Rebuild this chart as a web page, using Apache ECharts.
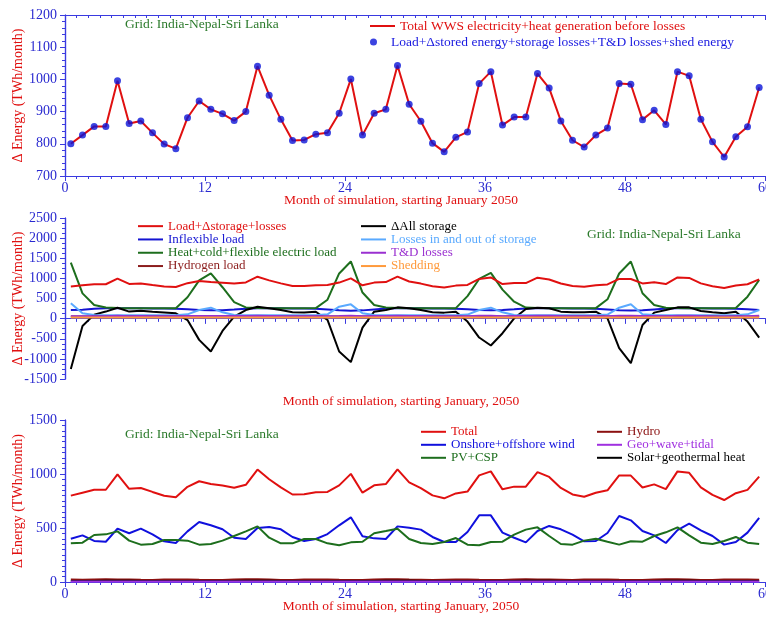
<!DOCTYPE html>
<html>
<head>
<meta charset="utf-8">
<script src="https://cdn.jsdelivr.net/npm/echarts@6/dist/echarts.min.js"></script>
<style>
html,body{margin:0;padding:0;background:#fff;overflow:hidden;}
#c{width:766px;height:617px;}
</style>
</head>
<body>
<div id="c"></div>
<script>
// ---- Data (TWh/month), one value per month, 60 months starting January 2050 ----
const monthTicks = [0, 12, 24, 36, 48, 60];

const total = [800,827,854,854,996,863,871,834,799,785,881,933,907,893,872,900,1041,951,876,810,812,830,834,895,1001,827,895,907,1043,923,870,802,775,820,837,987,1024,858,883,883,1018,973,871,811,790,827,849,987,985,875,904,860,1024,1011,876,806,759,822,853,975];

// Panel 2
const inflexibleLoad = [215,222,245,255,258,258,256,254,250,245,230,212,205,210,226,248,258,258,256,253,250,244,228,210,198,205,228,250,258,258,256,254,250,244,230,212,205,212,230,250,258,258,256,253,250,244,228,210,200,206,228,250,258,258,256,254,250,244,230,214];
const heatColdFlexLoad = [1390,627,340,275,262,258,256,255,255,258,530,950,1122,780,410,278,262,258,256,255,255,262,470,1122,1420,648,338,275,262,258,256,255,255,260,560,985,1135,720,420,275,262,258,256,255,255,260,480,1122,1420,630,340,272,262,258,256,255,255,262,545,960];
const hydrogenLoad = [52,51,53,54,55,54,53,52,51,50,52,53,54,53,52,54,56,55,53,51,50,51,52,54,56,53,54,55,57,55,53,51,50,51,52,55,56,53,54,54,56,55,53,51,50,51,52,55,55,53,54,53,56,56,53,51,49,51,52,55];
const deltaAllStorage = [-1250,-185,100,175,270,175,195,172,155,132,-35,-528,-817,-305,50,214,295,256,214,157,155,172,-33,-817,-1081,-223,173,214,280,256,214,157,149,173,-74,-470,-668,-363,8,239,272,256,173,157,157,173,8,-734,-1106,-157,149,214,280,280,190,157,132,173,-74,-470];
const storageLosses = [380,132,91,86,84,83,85,84,82,83,107,214,272,157,91,86,84,85,83,82,83,84,107,297,355,132,91,86,85,84,83,82,83,84,100,214,272,157,91,86,85,84,83,82,83,84,100,272,355,107,91,86,85,84,83,82,83,84,107,214];
const tdLosses = [58,60,62,62,70,62,63,60,58,57,63,66,65,64,63,64,72,68,63,59,59,60,60,64,70,60,64,65,73,66,63,58,56,59,60,70,72,62,63,63,71,69,63,59,57,60,61,70,70,63,65,62,72,71,63,58,55,59,61,69];
const shedding = [28,27,28,29,30,29,28,27,26,27,28,29,29,28,28,29,31,30,28,27,26,27,28,29,30,28,28,29,31,30,28,27,26,27,28,30,30,28,28,29,31,30,28,27,26,27,28,30,30,28,28,28,31,30,28,27,26,27,28,30];

// Panel 3
const wind = [401,432,380,373,494,451,494,441,377,361,469,556,525,488,410,398,500,509,488,417,380,398,444,525,599,423,404,398,515,503,485,417,370,370,463,617,617,457,410,367,472,519,488,438,377,380,454,611,571,472,432,361,481,540,478,426,346,370,457,593];
const pvCsp = [358,364,435,441,469,383,346,352,389,389,383,346,352,383,426,469,515,410,358,358,398,398,358,340,367,373,451,472,494,398,361,352,370,407,346,340,370,373,438,485,506,426,352,346,383,401,373,346,377,373,426,460,506,432,364,352,380,417,364,352];
const hydro = [22,20,24,25,24,22,20,19,22,24,23,20,19,18,23,25,25,22,19,18,22,24,24,20,19,18,23,25,25,22,20,18,21,24,23,20,19,18,23,25,24,22,20,18,22,24,24,20,19,18,23,25,25,22,19,18,22,24,23,20];
const geoWaveTidal = [4,4,4,4,5,4,4,4,4,4,4,4,4,4,4,4,5,4,4,4,4,4,4,4,4,4,4,4,5,4,4,4,4,4,4,4,4,4,4,4,5,4,4,4,4,4,4,4,4,4,4,4,5,4,4,4,4,4,4,4];
const solarGeoHeat = [10,9,10,11,12,11,10,10,9,9,10,10,10,9,10,11,12,11,10,10,9,9,10,10,10,9,10,11,12,11,10,10,9,9,10,10,10,9,10,11,12,11,10,10,9,9,10,10,10,9,10,11,12,11,10,10,9,9,10,10];

// ---- chart ----
const months = total.map((_, i) => i + 0.5);
const pts = arr => arr.map((v, i) => [months[i], v]);

const SERIF = 'Liberation Serif';
const AX_LINE = '#3a3ae0';
const AX_TXT = '#2a2ad0';
const RED = '#e01010';
const GREENTXT = '#2b7a2b';

const grids = [
  {left: 65, right: 1, top: 15, height: 161, containLabel: false, outerBoundsMode: 'none'},
  {left: 65, right: 1, top: 218, height: 161, containLabel: false, outerBoundsMode: 'none'},
  {left: 65, right: 1, top: 420, height: 162, containLabel: false, outerBoundsMode: 'none'}
];

function xBottom(g, showLabels, nameText, gap) {
  return {
    type: 'value', gridIndex: g, min: 0, max: 60, interval: 12, position: 'bottom',
    axisLine: {show: true, lineStyle: {color: AX_LINE, width: 1.2}},
    axisTick: {show: true, length: 5, lineStyle: {color: AX_LINE}},
    minorTick: {show: true, splitNumber: 12, length: 3, lineStyle: {color: AX_LINE}},
    splitLine: {show: false},
    axisLabel: {show: showLabels, color: AX_TXT, fontFamily: SERIF, fontSize: 14, margin: 5,
      formatter: v => monthTicks.includes(v) ? String(v) : ''},
    name: nameText, nameLocation: 'middle', nameGap: gap, nameMoveOverlap: false,
    nameTextStyle: {color: RED, fontFamily: SERIF, fontSize: 13.5, padding: [0, 28, 0, 0]}
  };
}
function xTop(g) {
  return {
    type: 'value', gridIndex: g, min: 0, max: 60, interval: 12, position: 'top',
    axisLine: {show: true, lineStyle: {color: AX_LINE, width: 1.2}},
    axisTick: {show: true, inside: true, length: 5, lineStyle: {color: AX_LINE}},
    minorTick: {show: true, splitNumber: 12, length: 3, lineStyle: {color: AX_LINE}},
    splitLine: {show: false}, axisLabel: {show: false}
  };
}
function yLeft(g, min, max, interval, minorSplit) {
  return {
    type: 'value', gridIndex: g, min: min, max: max, interval: interval, position: 'left',
    axisLine: {show: true, lineStyle: {color: AX_LINE, width: 1.2}},
    axisTick: {show: true, length: 5, lineStyle: {color: AX_LINE}},
    minorTick: {show: true, splitNumber: minorSplit, length: 3, lineStyle: {color: AX_LINE}},
    splitLine: {show: false},
    axisLabel: {color: AX_TXT, fontFamily: SERIF, fontSize: 14, margin: 8, formatter: v => String(v)},
    name: 'Δ Energy (TWh/month)', nameLocation: 'middle', nameGap: 40, nameMoveOverlap: false,
    nameTextStyle: {color: RED, fontFamily: SERIF, fontSize: 14}
  };
}
function yRight(g, min, max, interval, minorSplit) {
  return {
    type: 'value', gridIndex: g, min: min, max: max, interval: interval, position: 'right',
    axisLine: {show: true, lineStyle: {color: AX_LINE, width: 1.2}},
    axisTick: {show: true, inside: true, length: 5, lineStyle: {color: AX_LINE}},
    minorTick: {show: true, splitNumber: minorSplit, length: 3, lineStyle: {color: AX_LINE}},
    splitLine: {show: false}, axisLabel: {show: false}
  };
}

function lineSeries(name, data, color, xi, yi, z) {
  return {
    name: name, type: 'line', xAxisIndex: xi, yAxisIndex: yi, data: pts(data),
    symbol: 'none', lineStyle: {color: color, width: 2}, itemStyle: {color: color},
    z: z || 2, animation: false
  };
}

function legendBlock(left, top, lh, items) {
  return {
    orient: 'vertical', left: left, top: top, itemWidth: 25, itemHeight: 2, itemGap: 0,
    icon: 'rect', selectedMode: false, padding: 0,
    textStyle: {fontFamily: SERIF, fontSize: 13, lineHeight: lh},
    data: items.map(it => ({name: it[0], itemStyle: {color: it[1]}, textStyle: {color: it[1]}}))
  };
}

const S1a = 'Total WWS electricity+heat generation before losses';
const S1b = 'Load+Δstored energy+storage losses+T&D losses+shed energy';

const C = {
  inflex: '#1414d2', heat: '#1d6e1d', hyd: '#8b1c1c', stor: '#000000',
  loss: '#5aaaff', td: '#9a30d0', shed: '#ff9a3c',
  hydro: '#8b1010', wind: '#1010dd', geo: '#a030e0', pv: '#1d6e1d', sheat: '#000000'
};

const option = {
  animation: false,
  backgroundColor: '#ffffff',
  grid: grids,
  xAxis: [
    xBottom(0, true, 'Month of simulation, starting January 2050', 17),
    xBottom(1, false, 'Month of simulation, starting January, 2050', 15),
    xBottom(2, true, 'Month of simulation, starting January, 2050', 17),
    xTop(0), xTop(1), xTop(2)
  ],
  yAxis: [
    yLeft(0, 700, 1200, 100, 5),
    yLeft(1, -1500, 2500, 500, 4),
    yLeft(2, 0, 1500, 500, 10),
    yRight(0, 700, 1200, 100, 5),
    yRight(1, -1500, 2500, 500, 4),
    yRight(2, 0, 1500, 500, 10)
  ],
  legend: [
    {left: 370, top: 19, itemWidth: 25, itemHeight: 2, icon: 'rect', selectedMode: false, padding: 0,
     textStyle: {fontFamily: SERIF, fontSize: 13.5, color: RED},
     data: [{name: S1a, itemStyle: {color: RED}}]},
    {left: 370, top: 35, itemWidth: 25, itemHeight: 7, icon: 'circle', selectedMode: false, padding: 0,
     textStyle: {fontFamily: SERIF, fontSize: 13.5, color: '#1a1ae0'},
     data: [{name: S1b, itemStyle: {color: '#0a14d8'}}]},
    legendBlock(138, 219.5, 13.3, [
      ['Load+Δstorage+losses', RED], ['Inflexible load', C.inflex],
      ['Heat+cold+flexible electric load', C.heat], ['Hydrogen load', C.hyd]]),
    legendBlock(361, 219.5, 13.3, [
      ['ΔAll storage', C.stor], ['Losses in and out of storage', C.loss],
      ['T&D losses', C.td], ['Shedding', C.shed]]),
    legendBlock(421, 425.3, 12.8, [
      ['Total', RED], ['Onshore+offshore wind', C.wind], ['PV+CSP', C.pv]]),
    legendBlock(597, 425.3, 12.8, [
      ['Hydro', C.hydro], ['Geo+wave+tidal', C.geo], ['Solar+geothermal heat', C.sheat]])
  ],
  graphic: [
    {type: 'text', x: 125, y: 24, style: {text: 'Grid: India-Nepal-Sri Lanka', fill: GREENTXT, font: '13.5px "Liberation Serif"', verticalAlign: 'middle'}},
    {type: 'text', x: 587, y: 234, style: {text: 'Grid: India-Nepal-Sri Lanka', fill: GREENTXT, font: '13.5px "Liberation Serif"', verticalAlign: 'middle'}},
    {type: 'text', x: 125, y: 434, style: {text: 'Grid: India-Nepal-Sri Lanka', fill: GREENTXT, font: '13.5px "Liberation Serif"', verticalAlign: 'middle'}}
  ],
  series: [
    // Panel 1
    lineSeries(S1a, total, RED, 0, 0, 2),
    {name: S1b, type: 'scatter', xAxisIndex: 0, yAxisIndex: 0, data: pts(total),
     symbol: 'circle', symbolSize: 7, itemStyle: {color: '#0a14d8'}, z: 3, animation: false},
    // Panel 2
    lineSeries('Inflexible load', inflexibleLoad, C.inflex, 1, 1),
    lineSeries('Heat+cold+flexible electric load', heatColdFlexLoad, C.heat, 1, 1),
    lineSeries('ΔAll storage', deltaAllStorage, C.stor, 1, 1),
    lineSeries('Losses in and out of storage', storageLosses, C.loss, 1, 1),
    lineSeries('Hydrogen load', hydrogenLoad, C.hyd, 1, 1),
    lineSeries('T&D losses', tdLosses, C.td, 1, 1),
    lineSeries('Shedding', shedding, C.shed, 1, 1),
    lineSeries('Load+Δstorage+losses', total, RED, 1, 1),
    // Panel 3
    lineSeries('Total', total, RED, 2, 2),
    lineSeries('Onshore+offshore wind', wind, C.wind, 2, 2),
    lineSeries('PV+CSP', pvCsp, C.pv, 2, 2),
    lineSeries('Hydro', hydro, C.hydro, 2, 2),
    lineSeries('Solar+geothermal heat', solarGeoHeat, C.sheat, 2, 2),
    lineSeries('Geo+wave+tidal', geoWaveTidal, C.geo, 2, 2)
  ]
};

const chart = echarts.init(document.getElementById('c'), null, {renderer: 'canvas'});
chart.setOption(option);
</script>
</body>
</html>
